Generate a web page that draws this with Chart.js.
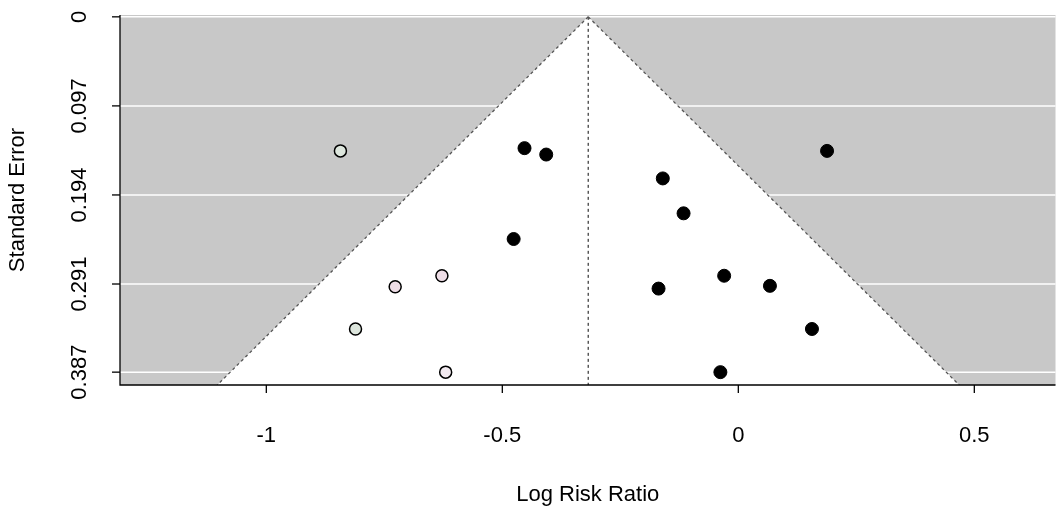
<!DOCTYPE html>
<html><head><meta charset="utf-8">
<script src="https://cdn.jsdelivr.net/npm/chart.js@4"></script>
<style>html,body{margin:0;padding:0;background:#fff}#c{display:block}</style>
</head><body>
<div style="width:1063px;height:515px"><canvas id="c"></canvas></div>
<script>
const observedX = [-0.453,-0.407,0.188,-0.160,-0.116,-0.476,-0.030,-0.169,0.067,0.156,-0.038];
const observedSE = [0.143,0.150,0.146,0.176,0.214,0.242,0.282,0.296,0.293,0.340,0.387];
const filledX = [-0.843,-0.628,-0.727,-0.811,-0.620];
const filledSE = [0.146,0.282,0.294,0.340,0.387];
const filledColors = ['#dde6dd','#eedde6','#eedde6','#dde6dd','#f2eaf0'];
const pooledEstimate = -0.318;
const seMax = 0.401;
const xTicks = [-1,-0.5,0,0.5];
const xTickLabels = ['-1','-0.5','0','0.5'];
const yTicks = [0,0.097,0.194,0.291,0.387];
const yTickLabels = ['0','0.097','0.194','0.291','0.387'];

const pts = (xs, ys) => xs.map((x,i)=>({x, y: ys[i]}));
const funnelL = [{x:pooledEstimate,y:0},{x:pooledEstimate-1.96*seMax,y:seMax}];
const funnelR = [{x:pooledEstimate,y:0},{x:pooledEstimate+1.96*seMax,y:seMax}];
const centre = [{x:pooledEstimate,y:0},{x:pooledEstimate,y:seMax}];
const FONT = '22px "Liberation Sans", Arial, sans-serif';

const bg = {
  id:'bg',
  beforeDatasetsDraw(chart){
    const {ctx, chartArea:a, scales:{x,y}} = chart;
    ctx.save();
    ctx.fillStyle='#c8c8c8';
    ctx.fillRect(a.left,a.top,a.right-a.left,a.bottom-a.top);
    ctx.strokeStyle='#ffffff'; ctx.lineWidth=1.5;
    yTicks.forEach(v=>{const p=y.getPixelForValue(v);ctx.beginPath();ctx.moveTo(a.left,p);ctx.lineTo(a.right,p);ctx.stroke();});
    ctx.fillStyle='#ffffff';
    ctx.beginPath();
    ctx.moveTo(x.getPixelForValue(funnelL[0].x),y.getPixelForValue(0));
    ctx.lineTo(x.getPixelForValue(funnelL[1].x),y.getPixelForValue(seMax));
    ctx.lineTo(x.getPixelForValue(funnelR[1].x),y.getPixelForValue(seMax));
    ctx.closePath(); ctx.fill();
    ctx.restore();
  },
  afterDraw(chart){
    const {ctx, chartArea:a, scales:{x,y}} = chart;
    ctx.save();
    ctx.strokeStyle='#000'; ctx.lineWidth=1.3;
    ctx.beginPath();ctx.moveTo(a.left,a.top);ctx.lineTo(a.left,a.bottom);ctx.lineTo(a.right,a.bottom);ctx.stroke();
    ctx.fillStyle='#000'; ctx.font=FONT;
    ctx.textAlign='center'; ctx.textBaseline='top';
    xTicks.forEach((v,i)=>{const p=x.getPixelForValue(v);
      ctx.beginPath();ctx.moveTo(p,a.bottom);ctx.lineTo(p,a.bottom+8);ctx.stroke();
      ctx.fillText(xTickLabels[i],p,a.bottom+40);});
    ctx.fillText('Log Risk Ratio',(a.left+a.right)/2,a.bottom+99);
    yTicks.forEach((v,i)=>{const p=y.getPixelForValue(v);
      ctx.beginPath();ctx.moveTo(a.left,p);ctx.lineTo(a.left-8,p);ctx.stroke();
      ctx.save();ctx.translate(a.left-40,p);ctx.rotate(-Math.PI/2);
      ctx.textBaseline='middle';ctx.fillText(yTickLabels[i],0,0);ctx.restore();});
    ctx.save();ctx.translate(18,(a.top+a.bottom)/2);ctx.rotate(-Math.PI/2);
    ctx.textBaseline='middle';ctx.fillText('Standard Error',0,0);ctx.restore();
    ctx.restore();
  }
};

new Chart(document.getElementById('c'),{
  type:'scatter',
  data:{datasets:[
    {data:funnelL,showLine:true,pointRadius:0,borderColor:'#555',borderWidth:1.3,borderDash:[3,3]},
    {data:funnelR,showLine:true,pointRadius:0,borderColor:'#555',borderWidth:1.3,borderDash:[3,3]},
    {data:centre,showLine:true,pointRadius:0,borderColor:'#333',borderWidth:1.2,borderDash:[3,3]},
    {data:pts(observedX,observedSE),pointRadius:6.5,backgroundColor:'#000',borderColor:'#000',borderWidth:1},
    {data:pts(filledX,filledSE),pointRadius:6,backgroundColor:filledColors,borderColor:'#000',borderWidth:1.5}
  ]},
  options:{
    responsive:true,maintainAspectRatio:false,animation:false,
    layout:{padding:{left:120,right:0,top:15,bottom:130}},
    plugins:{legend:{display:false},tooltip:{enabled:false}},
    scales:{
      x:{type:'linear',min:-1.31,max:0.672,display:false},
      y:{type:'linear',min:-0.002,max:seMax,reverse:true,display:false}
    }
  },
  plugins:[bg]
});
</script>
</body></html>
